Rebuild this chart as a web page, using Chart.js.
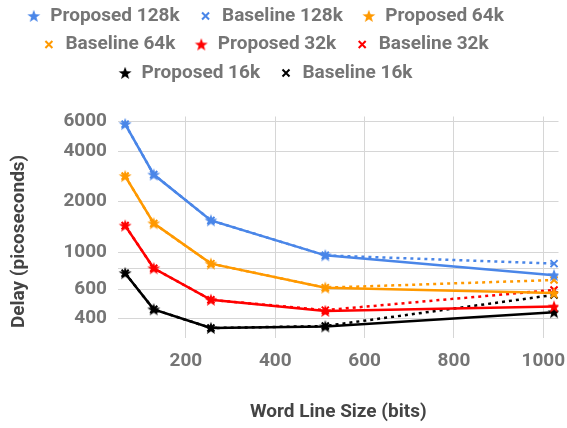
<!DOCTYPE html>
<html lang="en">
<head>
<meta charset="UTF-8">
<title>Delay vs Word Line Size</title>
<script src="https://cdn.jsdelivr.net/npm/chart.js"></script>
<style>
html, body { margin: 0; padding: 0; background: #fff; }
#wrap { width: 567px; height: 428px; }
</style>
</head>
<body>
<div id="wrap"><canvas id="chart" width="567" height="428"></canvas></div>
<script>
// word line sizes (bits) on the x axis
const wordLineSizes = [64, 128, 256, 512, 1024];

// delay in picoseconds
const proposed128 = [5800, 2900, 1545, 956, 728];
const baseline128 = [5800, 2900, 1545, 956, 853];
const proposed64 = [2840, 1483, 853, 613, 569];
const baseline64 = [2840, 1483, 853, 613, 681];
const proposed32 = [1438, 800, 519, 445, 473];
const baseline32 = [1438, 800, 519, 450, 594];
const proposed16 = [748, 455, 352, 360, 438];
const baseline16 = [748, 455, 352, 362, 555];

const yTicks = [400, 600, 800, 1000, 2000, 4000, 6000];
const xTicks = [200, 400, 600, 800, 1000];

const FONT = 'Roboto';
const grey = '#757575';

function starImg(color) {
  const c = document.createElement('canvas');
  c.width = 14; c.height = 14;
  const g = c.getContext('2d');
  g.fillStyle = color;
  g.beginPath();
  for (let i = 0; i < 10; i++) {
    const r = i % 2 === 0 ? 6.8 : 2.8;
    const a = -Math.PI / 2 + i * Math.PI / 5;
    const px = 7 + r * Math.cos(a), py = 7.5 + r * Math.sin(a);
    if (i === 0) g.moveTo(px, py); else g.lineTo(px, py);
  }
  g.closePath();
  g.fill();
  return c;
}

function pts(vals) {
  return vals.map((v, i) => ({ x: wordLineSizes[i], y: v }));
}

function proposed(label, vals, color) {
  return {
    label: label,
    data: pts(vals),
    borderColor: color,
    backgroundColor: color,
    borderWidth: 2.5,
    pointStyle: starImg(color),
    pointRadius: 6,
    tension: 0
  };
}

function baseline(label, vals, color) {
  return {
    label: label,
    data: pts(vals),
    borderColor: color,
    backgroundColor: color,
    borderWidth: 2.5,
    borderDash: [3, 4],
    pointStyle: 'crossRot',
    pointRadius: 5,
    pointBorderWidth: 2,
    tension: 0
  };
}

const blue = '#4a86e8', orange = '#ff9900', red = '#ff0000', black = '#000000';

// legend needs more room below it
const legendGap = {
  id: 'legendGap',
  beforeInit(chart) {
    const fit = chart.legend.fit;
    chart.legend.fit = function () {
      fit.bind(chart.legend)();
      this.height += 24;
    };
  },
  afterLayout(chart) {
    chart.legend.left = 0;
    chart.legend.right = 540;
  }
};

new Chart(document.getElementById('chart'), {
  type: 'line',
  data: {
    datasets: [
      proposed('Proposed 128k', proposed128, blue),
      baseline('Baseline 128k', baseline128, blue),
      proposed('Proposed 64k', proposed64, orange),
      baseline('Baseline 64k', baseline64, orange),
      proposed('Proposed 32k', proposed32, red),
      baseline('Baseline 32k', baseline32, red),
      proposed('Proposed 16k', proposed16, black),
      baseline('Baseline 16k', baseline16, black)
    ]
  },
  options: {
    responsive: false,
    animation: false,
    layout: { padding: { top: -3, left: 0, right: 0, bottom: 0 } },
    plugins: {
      tooltip: { enabled: false },
      legend: {
        position: 'top',
        labels: {
          usePointStyle: true,
          boxWidth: 14,
          boxHeight: 7,
          padding: 9.5,
          color: grey,
          font: { family: FONT, size: 19, weight: 'bold' },
          generateLabels(chart) {
            const items = Chart.defaults.plugins.legend.labels.generateLabels(chart);
            items.forEach(it => { it.text = it.text + '  '; });
            return items;
          }
        }
      }
    },
    scales: {
      x: {
        type: 'linear',
        min: 48,
        max: 1034,
        afterBuildTicks(scale) { scale.ticks = xTicks.map(v => ({ value: v })); },
        afterFit(scale) {
          scale.height = 90;
          scale.paddingLeft = 0;
          scale.paddingRight = 0;
        },
        border: { display: false },
        grid: { color: '#d6d6d6', drawTicks: false },
        ticks: {
          color: grey,
          padding: 12,
          font: { family: FONT, size: 19, weight: 'bold' },
          callback: v => String(v)
        },
        title: {
          display: true,
          text: 'Word Line Size (bits)',
          color: '#444444',
          padding: { top: 4, bottom: 4 },
          font: { family: FONT, size: 19, weight: 'bold' }
        }
      },
      y: {
        type: 'logarithmic',
        min: 307,
        max: 6440,
        afterBuildTicks(scale) { scale.ticks = yTicks.map(v => ({ value: v })); },
        afterFit(scale) { scale.width = 118; },
        border: { display: false },
        grid: { color: '#d6d6d6', drawTicks: false },
        ticks: {
          color: grey,
          padding: 11,
          font: { family: FONT, size: 19, weight: 'bold' },
          callback: v => (v === 800 ? '' : String(v))
        },
        title: {
          display: true,
          text: 'Delay (picoseconds)      ',
          color: '#444444',
          padding: { top: 8, bottom: 0 },
          font: { family: FONT, size: 19, weight: 'bold' }
        }
      }
    }
  },
  plugins: [legendGap]
});
</script>
</body>
</html>
